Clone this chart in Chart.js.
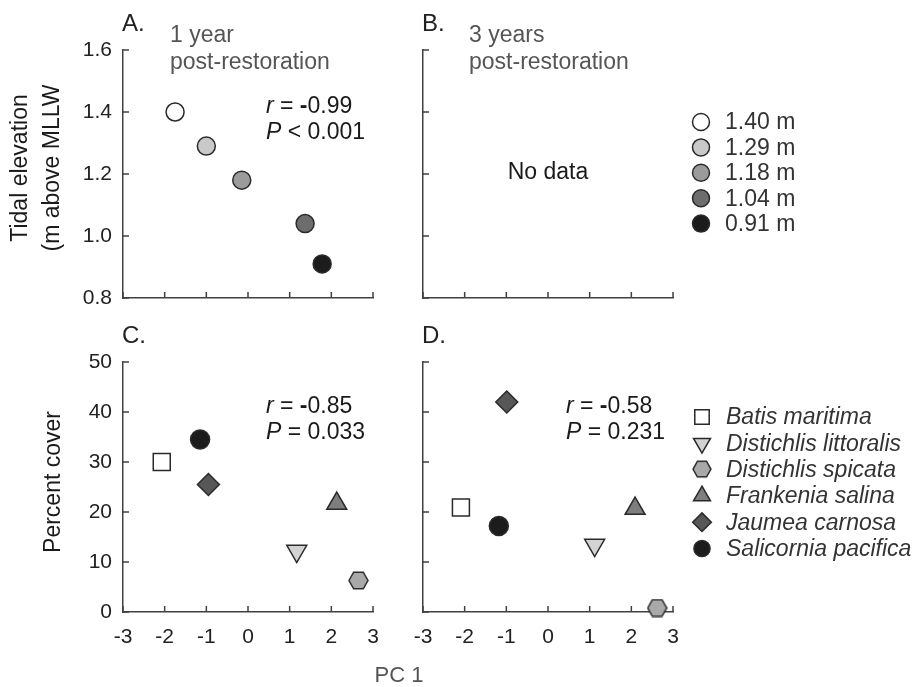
<!DOCTYPE html>
<html>
<head>
<meta charset="utf-8">
<script src="https://cdn.jsdelivr.net/npm/chart.js@4.4.1/dist/chart.umd.min.js"></script>
<style>
  html, body { margin: 0; padding: 0; background: #fff; }
  #wrap { position: relative; width: 915px; height: 687px; }
  canvas { position: absolute; left: 0; top: 0; pointer-events: none; }
</style>
</head>
<body>
<div id="wrap">
  <canvas id="chartA" width="915" height="687"></canvas>
  <canvas id="chartB" width="915" height="687"></canvas>
  <canvas id="chartC" width="915" height="687"></canvas>
  <canvas id="chartD" width="915" height="687"></canvas>
</div>
<script>
// tidal elevation panels (A: 1 year, B: 3 years = no data)
const elevLabels = ['1.40 m', '1.29 m', '1.18 m', '1.04 m', '0.91 m'];
const elevValues = [1.40, 1.29, 1.18, 1.04, 0.91];
const elevPc1Year1 = [-1.75, -1.0, -0.15, 1.37, 1.78];
const elevFills = ['#ffffff', '#c9c9c9', '#9b9b9b', '#6d6d6d', '#1c1c1c'];

// species panels (C: 1 year, D: 3 years)
const species = ['Batis maritima', 'Distichlis littoralis', 'Distichlis spicata',
  'Frankenia salina', 'Jaumea carnosa', 'Salicornia pacifica'];
const pc1Year1 = [-2.07, 1.17, 2.65, 2.13, -0.95, -1.15];
const coverYear1 = [30.0, 12.2, 6.3, 21.7, 25.5, 34.5];
const pc1Year3 = [-2.09, 1.12, 2.62, 2.09, -0.99, -1.18];
const coverYear3 = [20.9, 13.4, 0.8, 20.7, 42.0, 17.2];
const speciesFills = ['#ffffff', '#d3d3d3', '#a9a9a9', '#7e7e7e', '#575757', '#1c1c1c'];

const W = 915, H = 687;
const FONT = '"Liberation Sans", Arial, sans-serif';
const AXIS = '#404040';
const EDGE = '#2a2a2a';
const TXT = 23;

function makeHex(fill, scale) {
  const c = document.createElement('canvas');
  const w = 21 * scale, h = 19 * scale;
  c.width = Math.ceil(w); c.height = Math.ceil(h);
  const g = c.getContext('2d');
  g.beginPath();
  g.moveTo(1, h / 2); g.lineTo(w * 0.27, 1.2); g.lineTo(w * 0.73, 1.2);
  g.lineTo(w - 1, h / 2); g.lineTo(w * 0.73, h - 1.2); g.lineTo(w * 0.27, h - 1.2);
  g.closePath();
  g.fillStyle = fill; g.fill();
  g.strokeStyle = EDGE; g.lineWidth = 1.5; g.stroke();
  return c;
}

const speciesStyles = [
  { pointStyle: 'rect', radius: 12, rotation: 0 },
  { pointStyle: 'triangle', radius: 11.5, rotation: 180 },
  { pointStyle: makeHex(speciesFills[2], 1), radius: 10, rotation: 0 },
  { pointStyle: 'triangle', radius: 11.5, rotation: 0 },
  { pointStyle: 'rectRot', radius: 11, rotation: 0 },
  { pointStyle: 'circle', radius: 9.5, rotation: 0 }
];

function speciesSets(xs, ys) {
  return species.map((name, i) => ({
    label: name,
    data: [{ x: xs[i], y: ys[i] }],
    backgroundColor: speciesFills[i],
    borderColor: EDGE,
    borderWidth: 1.5,
    pointStyle: speciesStyles[i].pointStyle,
    pointRadius: speciesStyles[i].radius,
    rotation: speciesStyles[i].rotation,
    clip: false
  }));
}

function rich(ctx, parts, x, y) {
  parts.forEach(([t, st]) => {
    ctx.font = (st === 1 ? 'italic ' : st === 2 ? 'bold ' : '') + TXT + 'px ' + FONT;
    ctx.fillText(t, x, y);
    x += ctx.measureText(t).width;
  });
}

const panelPlugin = {
  id: 'panel',
  beforeDatasetsDraw(chart) {
    const ctx = chart.ctx, a = chart.chartArea;
    const { x, y } = chart.scales;
    ctx.save();
    ctx.strokeStyle = AXIS;
    ctx.lineWidth = 1.5;
    ctx.beginPath();
    x.ticks.forEach(t => {
      const px = x.getPixelForValue(t.value);
      ctx.moveTo(px, a.bottom); ctx.lineTo(px, a.bottom - 6);
    });
    y.ticks.forEach(t => {
      const py = y.getPixelForValue(t.value);
      ctx.moveTo(a.left, py); ctx.lineTo(a.left + 6, py);
    });
    ctx.stroke();
    ctx.restore();
  },
  afterDraw(chart, args, o) {
    const ctx = chart.ctx, a = chart.chartArea;
    ctx.save();
    ctx.textBaseline = 'middle';
    ctx.fillStyle = '#222';
    ctx.font = '24px ' + FONT;
    ctx.fillText(o.letter, a.left - 1, a.top - 26);
    if (o.sub) {
      ctx.fillStyle = '#555';
      ctx.font = TXT + 'px ' + FONT;
      o.sub.forEach((s, i) => ctx.fillText(s, o.subX, a.top - 14 + i * 27));
    }
    ctx.fillStyle = '#1a1a1a';
    if (o.stats) {
      o.stats.forEach((p, i) => rich(ctx, p, o.statX, o.statY + i * 26));
    }
    if (o.center) {
      ctx.textAlign = 'center';
      ctx.font = TXT + 'px ' + FONT;
      ctx.fillText(o.center, (a.left + a.right) / 2, (a.top + a.bottom) / 2 - 1);
      ctx.textAlign = 'left';
    }
    if (o.titles) {
      o.titles.forEach(t => {
        ctx.save();
        ctx.translate(t.x, t.y);
        if (t.rot) ctx.rotate(-Math.PI / 2);
        ctx.textAlign = 'center';
        ctx.fillStyle = t.color || '#1a1a1a';
        ctx.font = (t.size || TXT) + 'px ' + FONT;
        ctx.fillText(t.text, 0, 0);
        ctx.restore();
      });
    }
    if (o.legend) {
      const L = o.legend;
      L.items.forEach((it, i) => {
        const yy = L.y + i * L.dy;
        ctx.fillStyle = it.fill;
        ctx.strokeStyle = EDGE;
        ctx.lineWidth = 1.5;
        Chart.helpers.drawPoint(ctx, {
          pointStyle: it.pointStyle, radius: it.radius, rotation: it.rotation, borderWidth: 1.5
        }, L.x, yy);
        ctx.fillStyle = '#333';
        ctx.font = (L.italic ? 'italic ' : '') + TXT + 'px ' + FONT;
        ctx.fillText(it.label, L.textX, yy + 1);
      });
    }
    ctx.restore();
  }
};

function makePanel(id, area, yOpt, datasets, showX, showY, panel) {
  const yW = 40, xH = 40;
  return new Chart(document.getElementById(id), {
    type: 'scatter',
    data: { datasets },
    options: {
      responsive: false,
      animation: false,
      events: [],
      layout: { padding: { left: area.left - yW, right: W - area.right, top: area.top, bottom: H - area.bottom - xH } },
      scales: {
        x: {
          type: 'linear', min: -3, max: 3,
          ticks: { stepSize: 1, display: showX, padding: 13, color: '#222', font: { family: FONT, size: 21 } },
          grid: { display: false, drawTicks: false },
          border: { display: true, color: AXIS, width: 1.5 },
          afterFit: s => { s.height = xH; }
        },
        y: Object.assign({
          type: 'linear',
          grid: { display: false, drawTicks: false },
          border: { display: true, color: AXIS, width: 1.5 },
          afterFit: s => { s.width = yW; }
        }, yOpt, {
          ticks: Object.assign({ display: showY, padding: 11, color: '#222', font: { family: FONT, size: 21 } }, yOpt.ticks)
        })
      },
      plugins: { legend: { display: false }, tooltip: { enabled: false }, panel }
    },
    plugins: [panelPlugin]
  });
}

const elevAxis = { min: 0.8, max: 1.6, ticks: { stepSize: 0.2, callback: v => v.toFixed(1) } };
const coverAxis = { min: 0, max: 50, ticks: { stepSize: 10 } };

makePanel('chartA', { left: 123, right: 373, top: 50, bottom: 298 }, elevAxis, [{
  label: 'Tidal elevation',
  data: elevPc1Year1.map((x, i) => ({ x, y: elevValues[i] })),
  backgroundColor: elevFills,
  borderColor: EDGE,
  borderWidth: 1.5,
  pointRadius: 9,
  clip: false
}], false, true, {
  letter: 'A.', sub: ['1 year', 'post-restoration'], subX: 170,
  stats: [[['r', 1], [' = ', 0], ['-', 2], ['0.99', 0]], [['P', 1], [' < 0.001', 0]]],
  statX: 266, statY: 107,
  titles: [
    { text: 'Tidal elevation', x: 21, y: 168, rot: true },
    { text: '(m above MLLW', x: 53, y: 168, rot: true }
  ]
});

makePanel('chartB', { left: 423, right: 673, top: 50, bottom: 298 }, elevAxis, [], false, false, {
  letter: 'B.', sub: ['3 years', 'post-restoration'], subX: 469,
  center: 'No data',
  legend: {
    x: 701, textX: 725, y: 122, dy: 25.4, italic: false,
    items: elevLabels.map((label, i) => ({ label, fill: elevFills[i], pointStyle: 'circle', radius: 8.5, rotation: 0 }))
  }
});

makePanel('chartC', { left: 123, right: 373, top: 362, bottom: 612 }, coverAxis,
  speciesSets(pc1Year1, coverYear1), true, true, {
  letter: 'C.',
  stats: [[['r', 1], [' = ', 0], ['-', 2], ['0.85', 0]], [['P', 1], [' = 0.033', 0]]],
  statX: 266, statY: 407,
  titles: [
    { text: 'Percent cover', x: 54, y: 482, rot: true },
    { text: 'PC 1', x: 399, y: 676, rot: false, color: '#555', size: 22 }
  ]
});

makePanel('chartD', { left: 423, right: 673, top: 362, bottom: 612 }, coverAxis,
  speciesSets(pc1Year3, coverYear3), true, false, {
  letter: 'D.',
  stats: [[['r', 1], [' = ', 0], ['-', 2], ['0.58', 0]], [['P', 1], [' = 0.231', 0]]],
  statX: 566, statY: 407,
  legend: {
    x: 702, textX: 726, y: 417, dy: 26.3, italic: true,
    items: species.map((label, i) => ({
      label, fill: speciesFills[i],
      pointStyle: i === 2 ? makeHex(speciesFills[2], 0.95) : speciesStyles[i].pointStyle,
      radius: speciesStyles[i].radius * 0.85,
      rotation: speciesStyles[i].rotation
    }))
  }
});
</script>
</body>
</html>
